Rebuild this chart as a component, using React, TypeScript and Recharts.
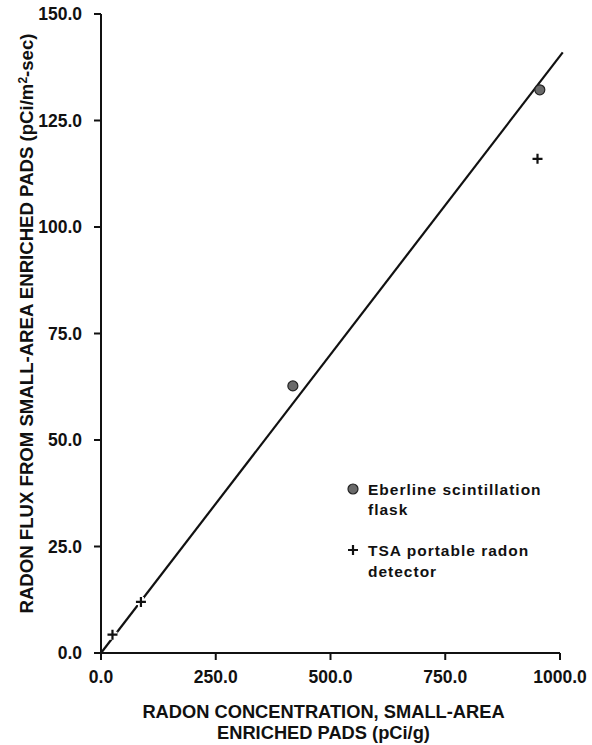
import React from 'react';
import { ScatterChart, Scatter, XAxis, YAxis, ReferenceLine } from 'recharts';

const xTicks = [0, 250, 500, 750, 1000];
const yTicks = [0, 25, 50, 75, 100, 125, 150];

const eberlineX = [418, 956];
const eberlineY = [62.7, 132.2];

const tsaX = [25, 87, 951];
const tsaY = [4.3, 12.0, 116.0];

const fitX = [0, 1006];
const fitY = [0, 141];

const eberline = eberlineX.map((x, i) => ({ x, y: eberlineY[i] }));
const tsa = tsaX.map((x, i) => ({ x, y: tsaY[i] }));
const fit = fitX.map((x, i) => ({ x, y: fitY[i] }));

const FONT = '"Liberation Sans", Arial, Helvetica, sans-serif';

const Dot = (props: any) => {
  const { cx, cy } = props;
  return <circle cx={cx} cy={cy} r={5} fill="#6a6a6a" stroke="#222" strokeWidth={1.2} />;
};

const Cross = (props: any) => {
  const { cx, cy } = props;
  const a = 5;
  return (
    <g>
      <path d={`M${cx - a},${cy}H${cx + a}M${cx},${cy - a}V${cy + a}`} stroke="#fff" strokeWidth={6} />
      <path d={`M${cx - a},${cy}H${cx + a}M${cx},${cy - a}V${cy + a}`} stroke="#111" strokeWidth={2.2} />
    </g>
  );
};

const XLabel = (props: any) => {
  const vb = props.viewBox || {};
  const cx = (vb.x ?? 101) + (vb.width ?? 459) / 2 - 7;
  const y0 = vb.y ?? 653;
  return (
    <text textAnchor="middle" fontFamily={FONT} fontWeight="bold" fontSize={18.3} fill="#111">
      <tspan x={cx} y={y0 + 65}>RADON CONCENTRATION, SMALL-AREA</tspan>
      <tspan x={cx} y={y0 + 86}>ENRICHED PADS (pCi/g)</tspan>
    </text>
  );
};

const YLabel = (props: any) => {
  const vb = props.viewBox || {};
  const cy = (vb.y ?? 14) + (vb.height ?? 639) / 2 - 10;
  const x = 33;
  return (
    <text
      x={x}
      y={cy}
      transform={`rotate(-90, ${x}, ${cy})`}
      textAnchor="middle"
      fontFamily={FONT}
      fontWeight="bold"
      fontSize={18.6}
      fill="#111"
    >
      RADON FLUX FROM SMALL-AREA ENRICHED PADS (pCi/m
      <tspan dy={-6} fontSize={12}>2</tspan>
      <tspan dy={6}>-sec)</tspan>
    </text>
  );
};

const tickStyle = { fontFamily: FONT, fontWeight: 'bold' as const, fontSize: 17.5, fill: '#111' };

export default function App() {
  return (
    <div style={{ position: 'absolute', left: 0, top: 0, width: 592, height: 745, background: '#fff' }}>
      <ScatterChart width={592} height={745} margin={{ top: 14, right: 32, left: 0, bottom: 0 }}>
        <XAxis
          type="number"
          dataKey="x"
          domain={[0, 1000]}
          ticks={xTicks}
          tickFormatter={(v: number) => v.toFixed(1)}
          height={92}
          tickSize={7}
          tickMargin={11}
          tick={tickStyle}
          axisLine={{ stroke: '#111', strokeWidth: 2 }}
          tickLine={{ stroke: '#111', strokeWidth: 2 }}
          label={<XLabel />}
        />
        <YAxis
          type="number"
          dataKey="y"
          domain={[0, 150]}
          ticks={yTicks}
          tickFormatter={(v: number) => v.toFixed(1)}
          width={101}
          tickSize={7}
          tickMargin={12}
          tick={tickStyle}
          axisLine={{ stroke: '#111', strokeWidth: 2 }}
          tickLine={{ stroke: '#111', strokeWidth: 2 }}
          label={<YLabel />}
        />
        <ReferenceLine
          segment={fit}
          ifOverflow="visible"
          stroke="#111"
          strokeWidth={2.2}
        />
        <Scatter data={eberline} shape={<Dot />} isAnimationActive={false} />
        <Scatter data={tsa} shape={<Cross />} isAnimationActive={false} />
      </ScatterChart>
      <svg width={592} height={745} style={{ position: 'absolute', left: 0, top: 0, pointerEvents: 'none' }}>
        <circle cx={353} cy={489} r={5} fill="#6a6a6a" stroke="#222" strokeWidth={1.2} />
        <text fontFamily={FONT} fontWeight="bold" fontSize={15.5} letterSpacing={1} fill="#111">
          <tspan x={368} y={495}>Eberline scintillation</tspan>
          <tspan x={368} y={515}>flask</tspan>
        </text>
        <path d="M348,550H358M353,545V555" stroke="#111" strokeWidth={2.2} />
        <text fontFamily={FONT} fontWeight="bold" fontSize={15.5} letterSpacing={1} fill="#111">
          <tspan x={368} y={556}>TSA portable radon</tspan>
          <tspan x={368} y={577}>detector</tspan>
        </text>
      </svg>
    </div>
  );
}
